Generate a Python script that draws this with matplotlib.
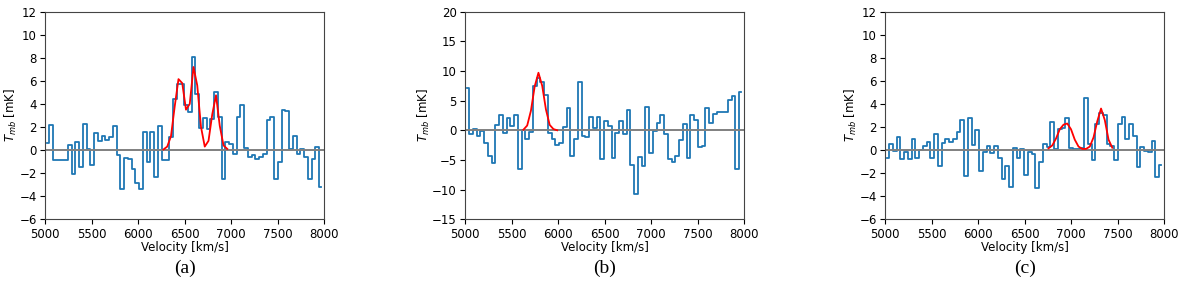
import numpy as np
import matplotlib
matplotlib.use("Agg")
import matplotlib.pyplot as plt

# channel grid (km/s)
v_start = 5023.0
v_width = 40.3
n_chan = 74

# spectra (mK)
t_a = [0.6, 2.2, -0.9, -0.9, -0.9, -0.9, 0.45, -2.1, 0.7, -1.5,
       2.3, 0.1, -1.3, 1.5, 0.75, 1.2, 0.85, 1.15, 2.1, -0.45,
       -3.4, -0.65, -0.75, -1.6, -2.85, -3.4, 1.6, -1.0, 1.6, -2.3,
       2.1, -0.85, -0.9, 1.1, 4.4, 5.7, 5.7, 3.9, 3.3, 8.1,
       4.9, 1.9, 2.8, 1.8, 2.7, 5.0, 2.9, -2.5, 0.7, 0.5,
       -0.3, 2.9, 3.9, 0.2, -0.6, -0.45, -0.75, -0.6, -0.35, 2.6,
       2.9, -2.5, -1.0, 3.5, 3.4, 0.05, 1.2, -0.3, 0.1, -0.6,
       -2.5, -0.75, 0.3, -3.2]
t_b = [7.2, -0.7, 0.2, -1.0, -0.2, -2.2, -4.4, -5.5, 0.9, 2.5,
       -0.45, 2.1, 0.7, 2.6, -6.5, 0.1, -1.4, -0.3, 7.5, 8.8,
       8.1, 5.9, -0.4, -1.4, -2.5, -2.1, 0.6, 3.7, -4.4, -1.5,
       8.2, -0.9, -1.2, 2.2, 0.3, 2.2, -4.8, 1.5, 0.8, -4.7,
       -0.4, 1.5, -0.7, 3.4, -5.9, -10.7, -4.5, -6.1, 4.0, -3.9,
       -0.2, 1.3, 2.5, -0.6, -4.9, -5.4, -4.4, -1.7, 1.1, -4.7,
       2.5, 1.8, -2.8, -2.6, 3.7, 1.3, 2.8, 3.1, 3.1, 3.1,
       5.1, 5.8, -6.6, 6.4]
t_c = [-0.7, 0.55, -0.1, 1.1, -0.8, -0.2, -0.8, 1.0, -0.7, 0.0,
       0.35, 0.7, -0.7, 1.4, -1.4, 0.65, 1.0, 0.7, 1.0, 1.55,
       2.6, -2.25, 2.75, 0.4, 1.7, -1.8, -0.15, 0.35, -0.25, 0.35,
       -0.7, -2.55, -1.4, -3.2, 0.15, -0.7, 0.05, -2.2, -0.15, -0.3,
       -3.25, -1.05, 0.5, 0.3, 2.4, 0.1, 1.8, 1.9, 2.75, 0.2,
       0.1, 0.1, 0.2, 4.5, 0.55, -0.85, 2.3, 3.2, 3.0, 0.5,
       0.35, -0.85, 2.3, 2.85, 1.0, 2.3, 1.25, -1.5, 0.3, -0.1,
       -0.2, 0.75, -2.3, -1.3]

# gaussian fits, sampled on the channel grid (first channel index, values)
fit_a_first = 31
fit_a = [0.05, 0.3, 1.2, 3.8, 6.15, 5.8, 3.5, 4.0, 7.2, 5.6,
         2.0, 0.3, 0.8, 3.1, 4.75, 2.1, 0.4, 0.1]
fit_b_first = 15
fit_b = [0.1, 0.8, 3.3, 7.4, 9.7, 7.5, 3.5, 0.9, 0.2, 0.0]
fit_c_first = 43
fit_c = [0.15, 0.4, 1.0, 1.8, 2.2, 2.3, 1.8, 0.9, 0.3, 0.1,
         0.1, 0.3, 1.1, 2.5, 3.6, 2.6, 0.9, 0.2]

panels = [
    (t_a, fit_a_first, fit_a, (-6, 12), np.arange(-6, 13, 2), "(a)"),
    (t_b, fit_b_first, fit_b, (-15, 20), np.arange(-15, 21, 5), "(b)"),
    (t_c, fit_c_first, fit_c, (-6, 12), np.arange(-6, 13, 2), "(c)"),
]

vel = v_start + v_width * np.arange(n_chan)

plt.rcParams["font.size"] = 8.5
fig = plt.figure(figsize=(12, 2.84), dpi=100)
lefts = [0.0375, 0.3875, 0.7375]

for left, (spec, f0, fit, ylim, yticks, cap) in zip(lefts, panels):
    ax = fig.add_axes([left, 0.228, 0.2328, 0.731])
    ax.plot(vel, spec, drawstyle="steps-mid", color="#1f77b4", lw=1.3)
    ax.axhline(0, color="grey", lw=1.4)
    ax.plot(vel[f0:f0 + len(fit)], fit, color="red", lw=1.3)
    ax.set_xlim(5000, 8000)
    ax.set_ylim(*ylim)
    ax.set_yticks(yticks)
    ax.set_xticks(np.arange(5000, 8001, 500))
    ax.tick_params(length=3.5, pad=2.5)
    ax.set_xlabel("Velocity [km/s]", labelpad=0)
    ax.set_ylabel("$T_{mb}$ [mK]", labelpad=0)
    for s in ax.spines.values():
        s.set_color("#444444")
    fig.text(left + 0.2328 / 2, 0.056, cap, ha="center", va="center",
             fontsize=14, family="Liberation Serif")

plt.savefig("out.png")
